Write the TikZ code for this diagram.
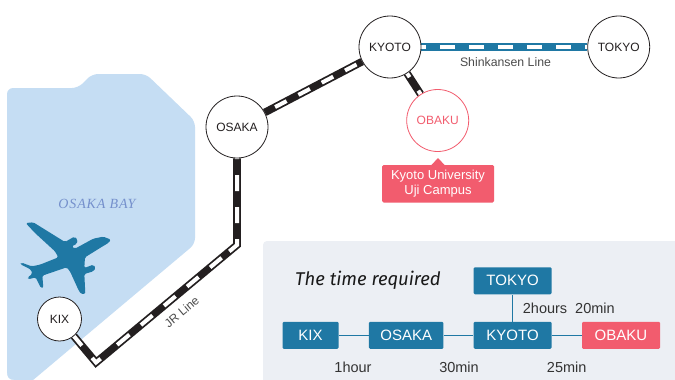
\documentclass[tikz,border=0pt]{standalone}
\usepackage{fontspec}
\usetikzlibrary{backgrounds,calc}
\setmainfont{Liberation Sans}
\newfontfamily\titlefont{Fira Sans}
\newfontfamily\bayfont[LetterSpace=6]{Liberation Serif}
\definecolor{teal}{HTML}{1F78A4}
\definecolor{pinkish}{HTML}{F25C6E}
\definecolor{seablue}{HTML}{C5DDF3}
\definecolor{panelgrey}{HTML}{ECEFF4}
\definecolor{railblack}{HTML}{231F20}
\definecolor{baytext}{HTML}{7590CC}
\tikzset{
  station/.style={circle,draw=railblack,line width=0.8pt,fill=white,inner sep=0pt,minimum size=#1,font=\fontsize{12}{12}\selectfont,text=railblack},
  railout/.style={line width=7.6pt,draw=railblack,line join=miter},
  railin/.style={line width=4pt,draw=white,line join=miter},
  tbox/.style={rounded corners=1.2pt,fill=teal,text=white,inner sep=0pt,font=\fontsize{15}{15}\selectfont,minimum height=27pt},
  tlink/.style={draw=teal,line width=1pt},
  timelab/.style={inner sep=0pt,text=black!80,font=\fontsize{14.5}{14.5}\selectfont},
}
\begin{document}
\begin{tikzpicture}[x=1pt,y=-1pt]
\useasboundingbox (0,0) rectangle (675,380);
% stations
\coordinate (c1) at (237,245);
\coordinate (c2) at (96,362.5);
\node[station=44pt] (kix) at (59.5,319) {KIX};
\node[station=62pt] (osaka) at (237,127) {OSAKA};
\node[station=62pt] (kyoto) at (390,47) {KYOTO};
\node[station=62pt] (tokyo) at (618.7,47) {TOKYO};
\node[station=62pt,draw=pinkish,text=pinkish] (obaku) at (437.7,120.5) {OBAKU};
\begin{pgfonlayer}{background}
\fill[white] (0,0) rectangle (675,380);
% sea
\fill[seablue,rounded corners=6pt] (7,400) -- (7,88) -- (78,88) -- (92,74) -- (146,74) -- (195,121) -- (195,244) -- (9.3,400) -- cycle;
\fill[white] (6,380.5) -- (6,373) -- (7,373) .. controls (7,377) and (9,380) .. (14,380) -- (14,380.5) -- cycle;
% plane
\begin{scope}[shift={(15,218)},x=0.3333pt,y=-0.3333pt]
\fill[teal,rounded corners=1.5pt] (288,65) -- (280,75) -- (255,90) -- (210,118) -- (208,150) -- (235,140) -- (242,150) -- (235,160) -- (208,168) -- (211,228) -- (198,228) -- (190,215) -- (165,160) -- (155,148) -- (85,172) -- (82,172) -- (85,210) -- (78,210) -- (62,178) -- (40,184) -- (38,178) -- (52,168) -- (48,155) -- (15,138) -- (20,134) -- (50,145) -- (75,140) -- (130,118) -- (120,100) -- (60,45) -- (32,15) -- (55,13) -- (150,72) -- (178,56) -- (188,65) -- (185,78) -- (170,85) -- (180,92) -- (235,62) -- (265,56) -- cycle;
\end{scope}
% panel
\fill[panelgrey,rounded corners=4pt] (263,241) -- (690,241) -- (690,395) -- (263,395) -- cycle;
% rails
\draw[railout] (osaka) -- (c1) -- (c2) -- (kix);
\draw[railin,dash pattern=on 16pt off 16pt,dash phase=16pt] (osaka.center) -- (c1) -- ($(c1)!10pt!(c2)$);
\draw[railin,dash pattern=on 4pt off 20pt on 15pt off 15pt on 15pt off 15pt on 15pt off 15pt on 15pt off 15pt on 16pt off 40pt,dash phase=4pt] (c1) -- (c2);
\draw[railin,dash pattern=on 12pt off 16pt on 40pt] ($(c2)!6pt!(c1)$) -- (c2) -- (kix.center);
\draw[railout] (osaka) -- (kyoto);
\draw[railin,dash pattern=on 13pt off 13.3pt,dash phase=9.6pt] (osaka.center) -- (kyoto.center);
\draw[railout] (kyoto) -- (obaku);
\draw[railin,dash pattern=on 36pt off 16pt on 40pt] (kyoto.center) -- (obaku.center);
\draw[railout,draw=teal] (kyoto) -- (tokyo);
\draw[railin,dash pattern=on 14.7pt off 14.3pt,dash phase=8pt] (kyoto.center) -- (tokyo.center);
\end{pgfonlayer}
% labels
\node[inner sep=0pt,text=black!70,font=\fontsize{12.3}{12.3}\selectfont] (shin) at (505.5,62.5) {Shinkansen Line};
\node[inner sep=0pt,text=black!70,font=\fontsize{12}{12}\selectfont,rotate=40] (jr) at (181.7,311.7) {JR Line};
\node[inner sep=0pt,text=baytext,font=\bayfont\itshape\fontsize{14}{14}\selectfont] (bay) at (97,204) {OSAKA BAY};
% callout
\fill[pinkish,rounded corners=1.5pt] (382,165) rectangle (494,202.5);
\fill[pinkish] (431,165.5) -- (438,158) -- (445,165.5) -- cycle;
\node[inner sep=0pt,align=center,text=white,font=\fontsize{13}{15}\selectfont] (uji) at (438,183.5) {Kyoto University\\Uji Campus};
% table
\node[inner sep=0pt,anchor=west,text=black!90,font=\titlefont\itshape\fontsize{18.5}{19}\selectfont] (title) at (295,280) {The time required};
\node[tbox,minimum width=78pt] (bt) at (512.6,280.8) {TOKYO};
\node[tbox,minimum width=56pt] (bk) at (310.5,335.3) {KIX};
\node[tbox,minimum width=74.5pt] (bo) at (406.2,335.3) {OSAKA};
\node[tbox,minimum width=78pt] (by) at (512.6,335.3) {KYOTO};
\node[tbox,minimum width=78pt,fill=pinkish] (bb) at (621,335.3) {OBAKU};
\draw[tlink] (bk) -- (bo);
\draw[tlink] (bo) -- (by);
\draw[tlink] (by) -- (bb);
\draw[tlink] (by) -- (bt);
\node[timelab] (t1) at (353,367) {1hour};
\node[timelab] (t2) at (459,367) {30min};
\node[timelab] (t3) at (566.7,367) {25min};
\node[timelab,anchor=west] (t4) at (522.7,308) {2hours\hspace{4pt} 20min};
\end{tikzpicture}
\end{document}
